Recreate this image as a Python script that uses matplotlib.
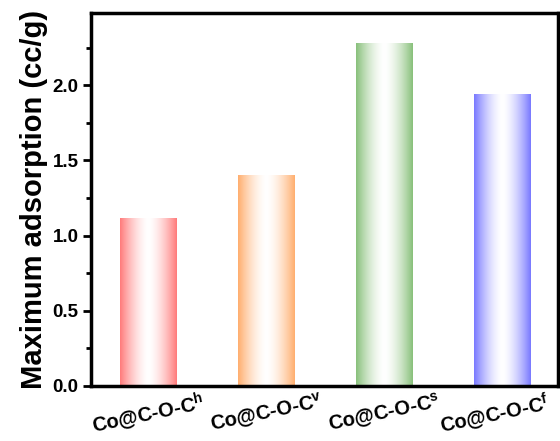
import numpy as np
import matplotlib
matplotlib.use("Agg")
import matplotlib.pyplot as plt
from matplotlib.colors import to_rgb
from matplotlib.transforms import ScaledTranslation

plt.rcParams['font.family'] = ['Liberation Sans', 'DejaVu Sans']
plt.rcParams['font.weight'] = 'bold'
plt.rcParams['mathtext.fontset'] = 'custom'
plt.rcParams['mathtext.rm'] = 'Liberation Sans:bold'
plt.rcParams['mathtext.default'] = 'rm'

categories = ['Co@C-O-C$^{h}$', 'Co@C-O-C$^{v}$', 'Co@C-O-C$^{s}$', 'Co@C-O-C$^{f}$']
values = [1.12, 1.40, 2.28, 1.94]
colors = ['#FF7A7A', '#FFAE6E', '#88C07A', '#7878FF']
yticks = [0.0, 0.5, 1.0, 1.5, 2.0]

fig = plt.figure(figsize=(5.6, 4.41), dpi=100)
ax = fig.add_axes([91/560, 1-386/441, (558-91)/560, (386-13)/441])

x = np.arange(len(values))
bars = ax.bar(x, values, width=0.48, color='none', edgecolor='none')

n = 200
t = np.abs(np.linspace(-1, 1, n))
f = np.clip(t, 0, 1) ** 1.6
for b, c in zip(bars, colors):
    rgb = np.array(to_rgb(c))
    grad = (1 - f)[:, None] * np.ones(3) + f[:, None] * rgb
    img = grad[None, :, :]
    im = ax.imshow(img, extent=(b.get_x(), b.get_x() + b.get_width(), 0, b.get_height()),
                   aspect='auto', interpolation='bilinear', zorder=2)
    im.set_clip_path(b)

ax.set_xlim(-0.487, 3.47)
ax.set_ylim(0, 2.48)
ax.set_yticks(yticks)
ax.set_yticks(np.arange(0.25, 2.4, 0.5), minor=True)
ax.set_yticklabels([f'{v:.1f}' for v in yticks], fontsize=13.5, fontweight='bold')
ax.set_xticks(x)
ax.set_xticklabels(categories, fontsize=14.5, fontweight='bold', rotation=12)
ax.tick_params(axis='x', length=0, pad=3)
ax.tick_params(axis='y', which='major', length=6, width=2, direction='out', pad=3)
ax.tick_params(axis='y', which='minor', length=3.5, width=2, direction='out')
for s in ax.spines.values():
    s.set_linewidth(2.5)
ax.set_ylabel('Maximum adsorption (cc/g)', fontsize=21, fontweight='bold', labelpad=3)

last = ax.get_xticklabels()[-1]
last.set_transform(last.get_transform() + ScaledTranslation(-8/100, 0, fig.dpi_scale_trans))

fig.savefig('out.png', dpi=100)
